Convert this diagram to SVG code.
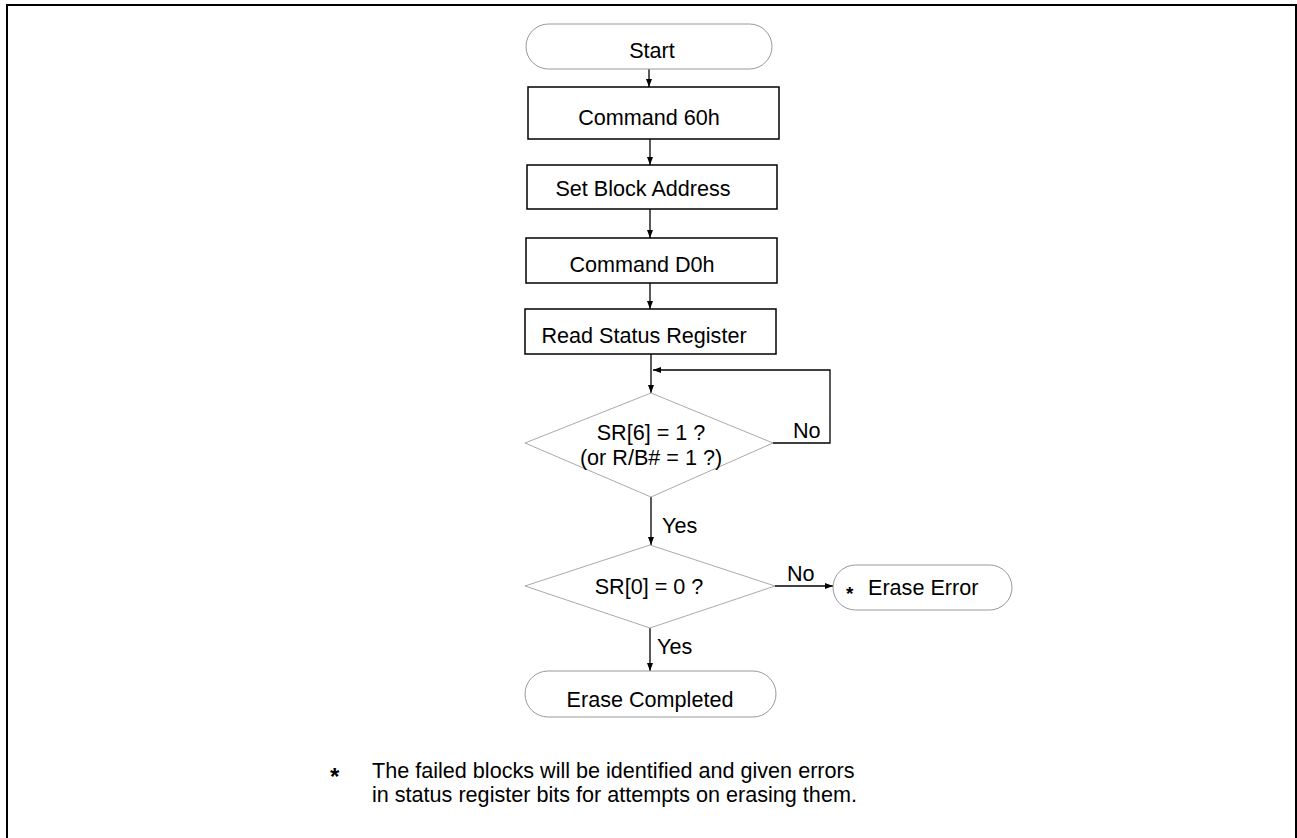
<svg xmlns="http://www.w3.org/2000/svg" width="1297" height="838" viewBox="0 0 1297 838">
<style>
text{font-family:"Liberation Sans",Arial,sans-serif;font-size:21.6px;fill:#000;}
.c{text-anchor:middle;}
.ast{font-weight:bold;}
.box{fill:#fff;stroke:#000;stroke-width:1.5;}
.term{fill:#fff;stroke:#999;stroke-width:1;}
.dia{fill:#fff;stroke:#aaa;stroke-width:1;}
.conn{fill:none;stroke:#000;stroke-width:1.3;}
</style>
<defs>
<marker id="ah" markerWidth="8" markerHeight="8" refX="8" refY="4" orient="auto" markerUnits="userSpaceOnUse">
<path d="M0,1 L8,4 L0,7 Z" fill="#000"/>
</marker>
</defs>
<rect x="0" y="0" width="1297" height="838" fill="#fff"/>
<path d="M7,845 L7,5 L1296,5 L1296,845" fill="none" stroke="#000" stroke-width="2"/>
<g id="connectors">
<line class="conn" x1="649" y1="69" x2="649" y2="87" marker-end="url(#ah)"/>
<line class="conn" x1="650" y1="139" x2="650" y2="165" marker-end="url(#ah)"/>
<line class="conn" x1="650" y1="209" x2="650" y2="238" marker-end="url(#ah)"/>
<line class="conn" x1="650" y1="283" x2="650" y2="309" marker-end="url(#ah)"/>
<line class="conn" x1="651" y1="354" x2="651" y2="393" marker-end="url(#ah)"/>
<polyline class="conn" points="773,443 830,443 830,370 653,370" marker-end="url(#ah)"/>
<line class="conn" x1="651" y1="497" x2="651" y2="545" marker-end="url(#ah)"/>
<line class="conn" x1="775" y1="586" x2="833" y2="586" marker-end="url(#ah)"/>
<line class="conn" x1="650" y1="628" x2="650" y2="671" marker-end="url(#ah)"/>
<text x="793" y="438">No</text>
<text x="662" y="533">Yes</text>
<text x="787" y="581">No</text>
<text x="657" y="654">Yes</text>
</g>
<g id="start">
<rect class="term" x="526" y="24" width="246" height="45" rx="22.5"/>
<text class="c" x="652" y="58">Start</text>
</g>
<g id="cmd60">
<rect class="box" x="528" y="87" width="251" height="52"/>
<text class="c" x="649" y="125">Command 60h</text>
</g>
<g id="setblock">
<rect class="box" x="527" y="165" width="250" height="44"/>
<text class="c" x="643" y="196">Set Block Address</text>
</g>
<g id="cmdd0">
<rect class="box" x="526" y="238" width="251" height="45"/>
<text class="c" x="642" y="272">Command D0h</text>
</g>
<g id="readsr">
<rect class="box" x="525" y="309" width="251" height="45"/>
<text class="c" x="644" y="343">Read Status Register</text>
</g>
<g id="sr6">
<polygon class="dia" points="651,393 773,443 651,497 525,443"/>
<text class="c" x="651" y="440">SR[6] = 1 ?</text>
<text class="c" x="651" y="465">(or R/B# = 1 ?)</text>
</g>
<g id="sr0">
<polygon class="dia" points="650,545 775,586 650,628 525,586"/>
<text class="c" x="649" y="594">SR[0] = 0 ?</text>
</g>
<g id="eraseerr">
<rect class="term" x="833" y="565" width="179" height="45" rx="22.5"/>
<text class="ast" x="846" y="600" style="font-size:19px">*</text>
<text x="868" y="595">Erase Error</text>
</g>
<g id="erasedone">
<rect class="term" x="525" y="671" width="251" height="46" rx="23"/>
<text class="c" x="650" y="707">Erase Completed</text>
</g>
<g id="footnote">
<text class="ast" x="330" y="785" style="font-size:24px">*</text>
<text x="372" y="778">The failed blocks will be identified and given errors</text>
<text x="372" y="802">in status register bits for attempts on erasing them.</text>
</g>
</svg>
